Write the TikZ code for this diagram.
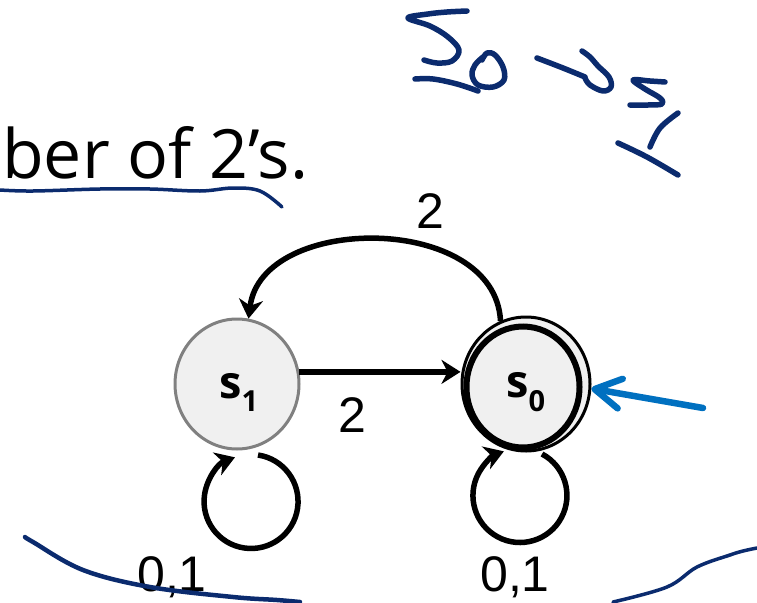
\documentclass[tikz,border=0pt]{standalone}
\usepackage{fontspec}
\setmainfont{Open Sans}
\newfontfamily\arialfont{Liberation Sans}
\usetikzlibrary{arrows.meta,shapes.geometric,calc}
\definecolor{ink}{RGB}{11,43,110}
\definecolor{pblue}{RGB}{0,112,192}
\definecolor{sfill}{RGB}{240,240,240}
\definecolor{sgray}{RGB}{128,128,128}
\begin{document}
\begin{tikzpicture}[x=1pt,y=-1pt,
  conn/.style={draw=black, line width=5.5pt, -{Stealth[length=19pt,width=24pt,inset=6pt]}},
  hand/.style={draw=ink, line width=5.5pt, line cap=round, line join=round},
  thinhand/.style={draw=ink, line width=3.5pt, line cap=round, line join=round},
  statebox/.style={ellipse, fill=sfill, inner sep=0pt},
  lbl/.style={font=\arialfont\fontsize{50}{50}\selectfont, inner sep=0pt, anchor=base},
  slbl/.style={font=\bfseries\fontsize{45}{45}\selectfont, inner sep=0pt, anchor=base west}]
\useasboundingbox (0,0) rectangle (757,602);

% title fragment
\node[font=\fontsize{68}{68}\selectfont, anchor=base west, inner sep=0pt] (title) at (2,178) {ber of 2’s.};
\draw[thinhand] plot[smooth, tension=0.6] coordinates {(0,190) (33,191) (100,189) (150,189) (200,191) (233,188) (260,191) (282,207)};

% states
\node[statebox, draw=sgray, line width=3pt, minimum width=124pt, minimum height=130pt] (s1) at (237,384) {};
\node[statebox, draw=black, line width=3pt, minimum width=128pt, minimum height=134pt] (s0) at (526,384) {};
\node[ellipse, draw=black, line width=6pt, minimum width=113pt, minimum height=121pt, inner sep=0pt] (s0in) at (523,387) {};
\node[slbl] (t1) at (219,398) {s\raisebox{-13pt}{\fontsize{29}{29}\selectfont 1}};
\node[slbl] (t0) at (506,397) {s\raisebox{-14pt}{\fontsize{29}{29}\selectfont 0}};

% transitions
\draw[conn] (s1.11) -- (s1.11 -| s0.west);
\draw[conn] (s0.112) .. controls (495,213) and (262,213) .. (s1.80);
\draw[conn] ($(s1)+(21,71)$) arc[start angle=-81.5, end angle=250, radius=47];
\draw[conn] ($(s0)+(16,70)$) arc[start angle=-62, end angle=250, radius=47];

\node[lbl] (e1) at (430,228) {2};
\node[lbl] (e2) at (352,432) {2};
\node[lbl] (e3) at (172,591) {0,1};
\node[lbl] (e4) at (515,591) {0,1};

% start arrow
\coordinate (bt) at (703,408);
\draw[draw=pblue, line width=6.5pt, line cap=round, -{Straight Barb[length=26pt,width=30pt,round]}] (bt) -- (s0.-4);

% handwriting top right
\draw[hand] plot[smooth, tension=0.6] coordinates {(467,11) (447,12) (428,14) (408,18) (430,26) (448,37) (459,50) (452,61) (437,63) (424,60)};
\draw[hand] plot[smooth, tension=0.6] coordinates {(415,79) (433,79) (457,84) (478,91)};
\draw[hand] plot[smooth, tension=0.6] coordinates {(483,57) (475,65) (472,75) (478,85) (493,87) (504,80) (503,67) (495,55) (487,53) (482,60)};
\draw[hand] plot[smooth, tension=0.6] coordinates {(537,58) (563,68) (585,77)};
\draw[hand] plot[smooth, tension=0.6] coordinates {(582,51) (590,57) (598,66) (609,77) (611,87) (603,91) (590,85) (585,78)};
\draw[hand] plot[smooth, tension=0.6] coordinates {(665,82) (650,81) (633,80) (645,89) (660,98) (662,104) (648,105) (630,105)};
\draw[hand] plot[smooth, tension=0.6] coordinates {(678,113) (660,128) (650,147)};
\draw[hand] plot[smooth, tension=0.6] coordinates {(618,143) (647,157) (678,175)};

% handwriting bottom
\draw[hand, line width=4.5pt] plot[smooth, tension=0.6] coordinates {(25,537) (33,542) (83,570) (150,587) (233,597) (277,600) (300,602)};
\draw[thinhand] plot[smooth, tension=0.6] coordinates {(613,602) (667,587) (697,567) (730,555) (743,551) (757,548)};
\end{tikzpicture}
\end{document}
